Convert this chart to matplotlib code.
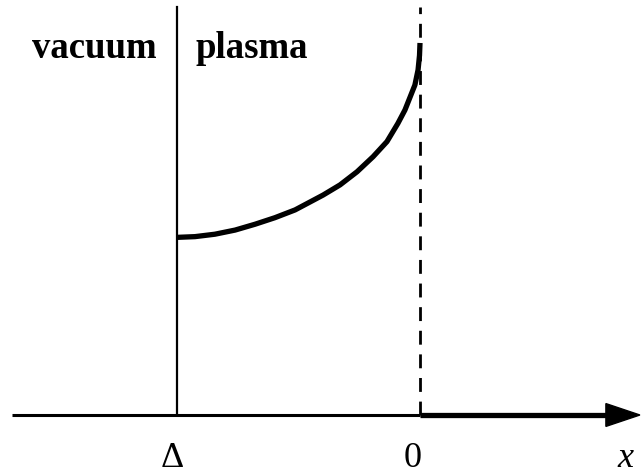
import matplotlib.pyplot as plt
from matplotlib.patches import Polygon

# positions along the x axis (Delta = plasma edge, 0 = wall)
X_DELTA = -1.0
X_ZERO = 0.0
X_AXIS_START = -1.68
X_AXIS_END = 0.905
Y_TOP = 1.68

# profile in the plasma region
curve_x = [-1.0, -0.926, -0.844, -0.761, -0.679, -0.597, -0.514, -0.399, -0.329,
           -0.259, -0.193, -0.136, -0.091, -0.062, -0.021, -0.008, -0.002, 0.0]
curve_y = [0.731, 0.734, 0.744, 0.761, 0.785, 0.812, 0.844, 0.905, 0.947,
           1.001, 1.063, 1.125, 1.200, 1.255, 1.358, 1.420, 1.48, 1.531]

tick_pos = [X_DELTA, X_ZERO]
tick_labels = ["\u0394", "0"]

plt.rcParams['font.family'] = ['Liberation Serif', 'DejaVu Serif']

fig = plt.figure(figsize=(6.44, 4.75), dpi=100)
ax = fig.add_axes([0, 0, 1, 1])
ax.set_xlim(-420 / 243, 224 / 243)
ax.set_ylim(-60 / 243, 415 / 243)
ax.axis("off")

# x axis: thin part, thick part, arrow head
ax.plot([X_AXIS_START, X_ZERO], [0, 0], color="black", lw=2.2, solid_capstyle="butt")
ax.plot([X_ZERO, X_AXIS_END - 0.1], [0, 0], color="black", lw=3.8, solid_capstyle="butt")
head = Polygon([[X_AXIS_END - 0.14, 0.047], [X_AXIS_END, 0], [X_AXIS_END - 0.14, -0.047]],
               closed=True, color="black")
ax.add_patch(head)

# boundary lines
ax.plot([X_DELTA, X_DELTA], [0, Y_TOP], color="black", lw=1.6)
ax.plot([X_ZERO, X_ZERO], [0, Y_TOP], color="black", lw=2.0, linestyle=(0, (5, 3.5)))

# profile
ax.plot(curve_x, curve_y, color="black", lw=3.8, solid_capstyle="butt", solid_joinstyle="round")

# labels
ax.text(X_DELTA - 0.085, 1.47, "vacuum", fontsize=26.5, fontweight="bold", ha="right", va="baseline")
ax.text(X_DELTA + 0.075, 1.47, "plasma", fontsize=26.5, fontweight="bold", ha="left", va="baseline")
for xp, lab in zip(tick_pos, tick_labels):
    ax.text(xp - 0.02 if lab == "\u0394" else xp - 0.03, -0.215, lab, fontsize=26, ha="center", va="baseline")
ax.text(0.845, -0.215, "x", fontsize=26, style="italic", ha="center", va="baseline")

fig.savefig("out.png", dpi=100)
